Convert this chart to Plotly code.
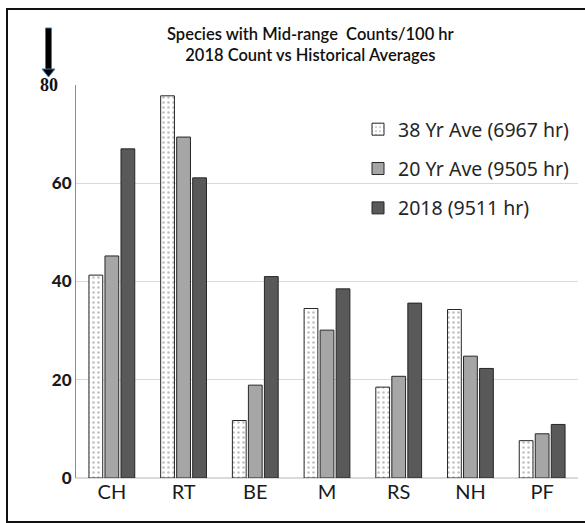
import plotly.graph_objects as go

categories = ["CH", "RT", "BE", "M", "RS", "NH", "PF"]
ave38 = [41.3, 77.8, 11.7, 34.5, 18.5, 34.3, 7.6]
ave20 = [45.2, 69.4, 18.9, 30.1, 20.7, 24.8, 9.0]
y2018 = [67.0, 61.1, 41.0, 38.5, 35.6, 22.3, 10.9]
series_names = ["38 Yr Ave (6967 hr)", "20 Yr Ave (9505 hr)", "2018 (9511 hr)"]
ytick_vals = [0, 20, 40, 60, 80]

W, H = 585, 523
L, R, T, B = 76, 7, 85, 45
pw, ph = W - L - R, H - T - B

def px(x):
    return (x - L) / pw

def py(y):
    return (H - B - y) / ph

fig = go.Figure()
fig.add_trace(go.Bar(
    x=categories, y=ave38, name=series_names[0], legendgroup="a",
    marker=dict(color="white", line=dict(color="#262626", width=1),
                pattern=dict(shape=".", fgcolor="#808080", bgcolor="white", size=5, solidity=0.2)),
))
fig.add_trace(go.Bar(
    x=categories, y=ave20, name=series_names[1], legendgroup="b",
    marker=dict(color="#A6A6A6", line=dict(color="#262626", width=1)),
))
fig.add_trace(go.Bar(
    x=categories, y=y2018, name=series_names[2], legendgroup="c",
    marker=dict(color="#595959", line=dict(color="#262626", width=1)),
))

fig.update_layout(
    width=W, height=H,
    margin=dict(l=L, r=R, t=T, b=B),
    paper_bgcolor="white", plot_bgcolor="white",
    barmode="group", bargap=0.33, bargroupgap=0.14,
    font=dict(family="Lato", color="#1a1a1a"),
    showlegend=True,
    legend=dict(x=px(358), y=py(110), xanchor="left", yanchor="top",
                bgcolor="rgba(0,0,0,0)", font=dict(size=19.5, color="#262626", family="Noto Sans"),
                tracegroupgap=11, itemwidth=30),
    xaxis=dict(showgrid=False, showline=False, ticks="",
               tickfont=dict(size=20, color="#1a1a1a", family="Lato")),
    yaxis=dict(range=[0, 80], tickvals=ytick_vals,
               ticktext=[str(v) if v != 80 else "" for v in ytick_vals],
               showgrid=True, gridcolor="#D9D9D9", gridwidth=1,
               zeroline=True, zerolinecolor="#D9D9D9",
               showline=True, linecolor="#8C8C8C", linewidth=1,
               ticks="", ticklen=0,
               tickfont=dict(size=17, color="#1a1a1a", family="Lato Black")),
)

# title (two lines in one text)
fig.add_annotation(xref="paper", yref="paper", x=px(310), y=py(45),
                   text="Species with Mid-range  Counts/100 hr<br>2018 Count vs Historical Averages",
                   showarrow=False, align="center",
                   font=dict(size=16.5, color="#111111", family="Lato Semibold"),
                   xanchor="center", yanchor="middle")

# 80 label (serif)
fig.add_annotation(xref="paper", yref="paper", x=px(60), y=py(85),
                   text="<b>80</b>", showarrow=False,
                   font=dict(size=18, color="#111111", family="Liberation Serif"),
                   xanchor="right", yanchor="middle")

# arrow (shaft + head)
fig.add_shape(type="rect", xref="paper", yref="paper",
              x0=px(45.5), x1=px(51.5), y0=py(70), y1=py(28),
              fillcolor="#000000", line=dict(color="#3E7FB0", width=1))
fig.add_shape(type="path", xref="paper", yref="paper",
              path=f"M {px(42)} {py(69)} L {px(55)} {py(69)} L {px(48.5)} {py(77)} Z",
              fillcolor="#000000", line=dict(color="#3E7FB0", width=1))

# outer border
fig.add_shape(type="rect", xref="paper", yref="paper",
              x0=px(7), x1=px(590), y0=py(522), y1=py(9),
              line=dict(color="#111111", width=2))

fig.write_html("out.html")
